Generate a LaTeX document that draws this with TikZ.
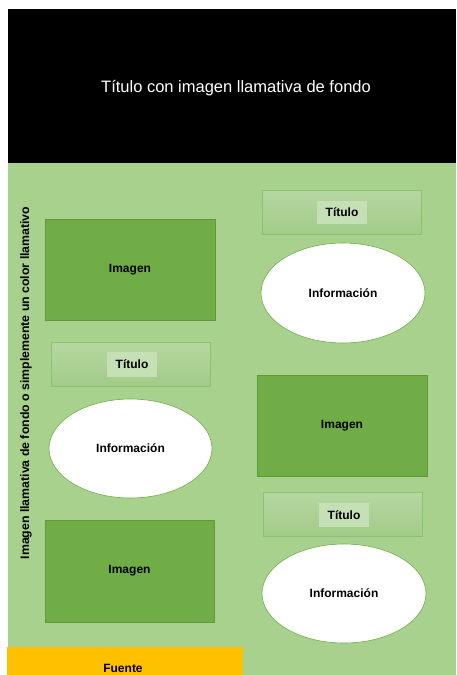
\documentclass[tikz,border=0pt]{standalone}
\usepackage{fontspec}
\setmainfont{Liberation Sans}
\usetikzlibrary{shapes.geometric}
\definecolor{bgreen}{HTML}{A9D18E}
\definecolor{imggreen}{HTML}{70AD47}
\definecolor{imgborder}{HTML}{5E9A3A}
\definecolor{tittop}{HTML}{B6D7A2}
\definecolor{titbot}{HTML}{A2CB88}
\definecolor{titborder}{HTML}{8CC46E}
\definecolor{labfill}{HTML}{C5E0B4}
\definecolor{fuente}{HTML}{FFC000}
\tikzset{
  imgbox/.style={draw=imgborder, line width=0.8pt, fill=imggreen, font=\fontsize{12}{14}\selectfont\bfseries},
  titbox/.style={draw=titborder, line width=0.8pt, top color=tittop, bottom color=titbot},
  titlabel/.style={fill=labfill, font=\fontsize{12}{14}\selectfont\bfseries, inner sep=0pt},
  infoell/.style={ellipse, draw=imggreen, line width=0.6pt, fill=white, font=\fontsize{12}{14}\selectfont\bfseries, inner sep=0pt}
}
\begin{document}
\begin{tikzpicture}[x=1pt,y=-1pt]
\useasboundingbox (0,0) rectangle (456,675);
\clip (0,0) rectangle (456,675);
% header and background
\fill[black] (8,9) rectangle (456,163);
\fill[bgreen] (8,163) rectangle (456,675);
\node[text=white, font=\fontsize{16.5}{19}\selectfont] (title) at (236,88) {Título con imagen llamativa de fondo};
% vertical text
\node[rotate=90, font=\fontsize{12.3}{14}\selectfont\bfseries] (side) at (26,383) {Imagen llamativa de fondo o simplemente un color llamativo};
% left column
\node[imgbox, minimum width=170pt, minimum height=101pt] (img1) at (130,270) {Imagen};
\node[titbox, minimum width=159pt, minimum height=44pt] (tit1) at (130.5,364) {};
\node[titlabel, minimum width=50pt, minimum height=25pt] (tl1) at (132,364.5) {Título};
\node[infoell, minimum width=163pt, minimum height=99pt] (inf1) at (130.5,448.5) {Información};
\node[imgbox, minimum width=169pt, minimum height=102pt] (img2) at (129.5,571) {Imagen};
% right column
\node[titbox, minimum width=159pt, minimum height=44pt] (tit2) at (341.5,212) {};
\node[titlabel, minimum width=50pt, minimum height=23pt] (tl2) at (342,212.5) {Título};
\node[infoell, minimum width=164pt, minimum height=100pt] (inf2) at (343,293) {Información};
\node[imgbox, minimum width=170pt, minimum height=101pt] (img3) at (342,425.5) {Imagen};
\node[titbox, minimum width=159pt, minimum height=44pt] (tit3) at (342.5,514) {};
\node[titlabel, minimum width=50pt, minimum height=24pt] (tl3) at (344,515) {Título};
\node[infoell, minimum width=164pt, minimum height=99pt] (inf3) at (344,593.5) {Información};
% fuente
\fill[fuente] (7,647) rectangle (243,675);
\node[font=\fontsize{12}{14}\selectfont\bfseries, anchor=base] (src) at (123,672) {Fuente};
\end{tikzpicture}
\end{document}
